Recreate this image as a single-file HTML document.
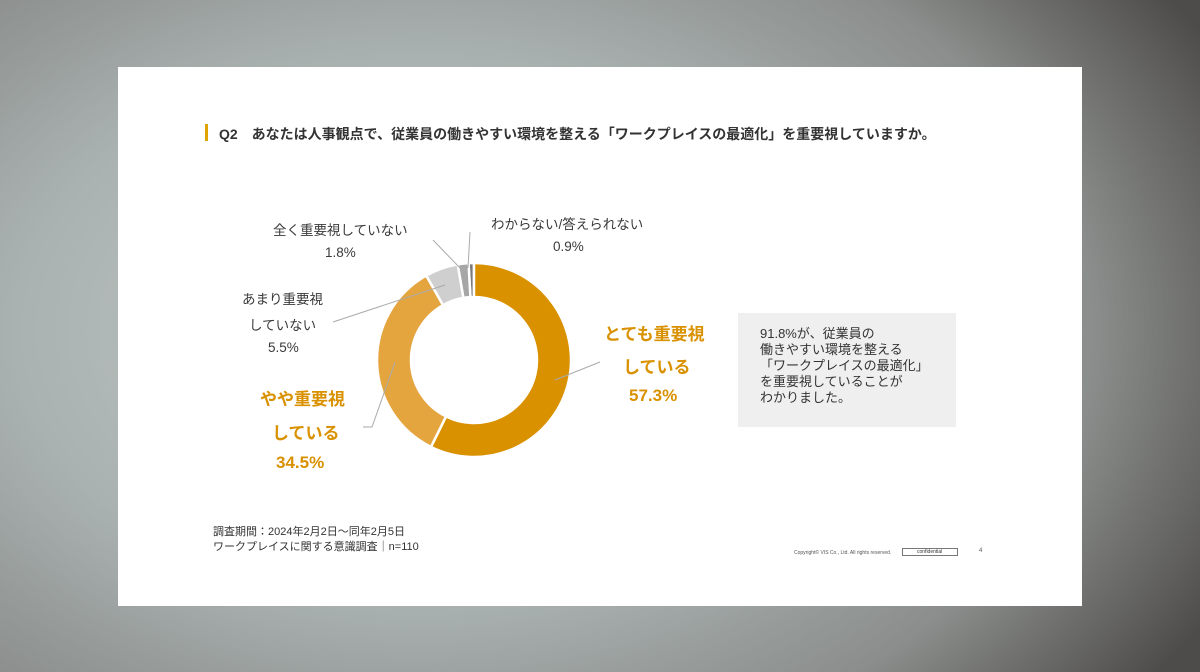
<!DOCTYPE html>
<html><head><meta charset="utf-8"><style>
body{margin:0;width:1200px;height:672px;overflow:hidden;font-family:"Liberation Sans","Noto Sans CJK JP",sans-serif;
background:radial-gradient(ellipse 900px 600px at 420px 330px,#c4cac9 0%,#aab2b1 45%,#8a8d8b 75%,#4e4c4a 100%);position:relative}
.slide{position:absolute;left:118px;top:67px;width:964px;height:539px;background:#fff}
.t{position:absolute;color:#3a3a3a;white-space:nowrap}
.o{color:#D99100;font-weight:bold}
</style></head><body>
<div class="slide"></div>
<div style="position:absolute;left:205px;top:124px;width:3px;height:17px;background:#E0A400"></div>
<div class="t" style="left:219px;top:124px;font-size:14px;font-weight:bold;color:#333">Q2　あなたは人事観点で、従業員の働きやすい環境を整える「ワークプレイスの最適化」を重要視していますか。</div>
<svg style="position:absolute;left:0;top:0" width="1200" height="672" id="s">
<g stroke="#aaa" stroke-width="1" fill="none">
<polyline points="433,240 460,268 463,272"/>
<polyline points="470,232 468,268"/>
<polyline points="333,322 445,285"/>
<polyline points="363,427 372,427 395,362"/>
<polyline points="555,380 600,362"/>
</g>
</svg>
<div class="t" style="left:273px;top:219px;font-size:13.5px">全く重要視していない</div>
<div class="t" style="left:325px;top:245px;font-size:13.5px">1.8%</div>
<div class="t" style="left:491px;top:213px;font-size:13.5px">わからない/答えられない</div>
<div class="t" style="left:553px;top:239px;font-size:13.5px">0.9%</div>
<div class="t" style="left:242px;top:288px;font-size:13.5px">あまり重要視</div>
<div class="t" style="left:249px;top:314px;font-size:13.5px">していない</div>
<div class="t" style="left:268px;top:340px;font-size:13.5px">5.5%</div>
<div class="t o" style="left:260px;top:385px;font-size:17px">やや重要視</div>
<div class="t o" style="left:272px;top:419px;font-size:17px">している</div>
<div class="t o" style="left:276px;top:453px;font-size:17px">34.5%</div>
<div class="t o" style="left:604px;top:320px;font-size:17px">とても重要視</div>
<div class="t o" style="left:623px;top:353px;font-size:17px">している</div>
<div class="t o" style="left:629px;top:386px;font-size:17px">57.3%</div>
<div style="position:absolute;left:738px;top:313px;width:218px;height:114px;background:#efefef"></div>
<div class="t" style="left:760px;top:326px;font-size:13px;line-height:16px;color:#333">91.8%が、従業員の<br>働きやすい環境を整える<br>「ワークプレイスの最適化」<br>を重要視していることが<br>わかりました。</div>
<div class="t" style="left:213px;top:525px;font-size:11px;line-height:15px;color:#333">調査期間：2024年2月2日〜同年2月5日<br>ワークプレイスに関する意識調査｜n=110</div>
<div class="t" style="left:794px;top:550px;font-size:5px;color:#555">Copyright© VIS Co., Ltd. All rights reserved.</div>
<div style="position:absolute;left:902px;top:548px;width:54px;height:6px;border:1px solid #777"></div>
<div class="t" style="left:917px;top:549px;font-size:5px;color:#333">confidential</div>
<div class="t" style="left:979px;top:548px;font-size:6px;color:#555">4</div>
<script>
var s=document.getElementById('s'),cx=474,cy=360,R=97,r=63;
var d=[[57.3,'#D99100'],[34.5,'#E4A53F'],[5.5,'#CFCFCF'],[1.8,'#A6A6A6'],[0.9,'#7a7a7a']];
var a=0;
function P(an,rr){var t=an/100*2*Math.PI-Math.PI/2;return [cx+rr*Math.cos(t),cy+rr*Math.sin(t)];}
d.forEach(function(e){var a2=a+e[0];var p1=P(a,R),p2=P(a2,R),p3=P(a2,r),p4=P(a,r),l=e[0]>50?1:0;
var p=document.createElementNS('http://www.w3.org/2000/svg','path');
p.setAttribute('d','M'+p1+'A'+R+','+R+' 0 '+l+' 1 '+p2+'L'+p3+'A'+r+','+r+' 0 '+l+' 0 '+p4+'Z');
p.setAttribute('fill',e[1]);p.setAttribute('stroke','#fff');p.setAttribute('stroke-width','2.5');
s.insertBefore(p,s.firstChild);a=a2;});
</script>
</body></html>
